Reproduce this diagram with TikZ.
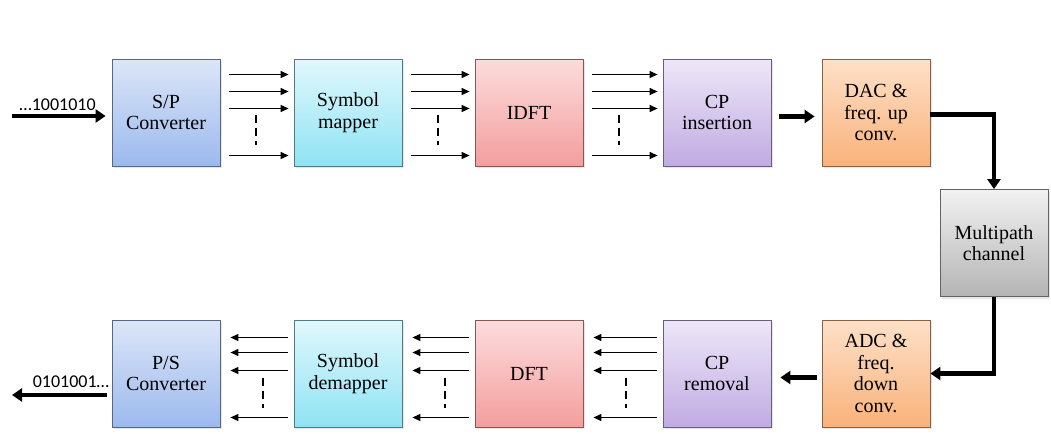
\documentclass[tikz,border=0pt]{standalone}
\usepackage{fontspec}
\setmainfont{Liberation Serif}
\newfontfamily\boxfont{Liberation Serif}
\newfontfamily\labfont{Carlito}
\usetikzlibrary{arrows.meta,shadows}

\definecolor{spT}{HTML}{DCE6F8}
\definecolor{spB}{HTML}{9CB9EE}
\definecolor{mapT}{HTML}{E1F8FC}
\definecolor{mapB}{HTML}{8FE3F4}
\definecolor{ftT}{HTML}{FCDCDC}
\definecolor{ftB}{HTML}{F49E9E}
\definecolor{cpT}{HTML}{EEE7F8}
\definecolor{cpB}{HTML}{C0ABE3}
\definecolor{cvT}{HTML}{FEE0C8}
\definecolor{cvB}{HTML}{F9B27A}
\definecolor{mpT}{HTML}{F2F2F2}
\definecolor{mpB}{HTML}{B4B4B4}

\begin{document}
\begin{tikzpicture}[x=0.5pt,y=-0.5pt,
   blk/.style 2 args={top color=#1, bottom color=#2, draw=#2!55!black,
      line width=0.4pt, minimum width=54pt, minimum height=53.5pt,
      inner sep=1pt, align=center, font=\boxfont\fontsize{10}{10.7}\selectfont,
      drop shadow={opacity=0.2,shadow xshift=1pt,shadow yshift=-1pt}},
   par/.style={line width=0.6pt,-{Triangle[length=4pt,width=3.5pt]}},
   fat/.style={line width=2.2pt,-{Triangle[length=5pt,width=6.5pt]}},
   dots/.style={line width=1pt,dash pattern=on 4pt off 2.5pt},
   bits/.style={anchor=base,inner sep=0pt,font=\labfont\fontsize{9}{9}\selectfont}]
   \useasboundingbox (0,0) rectangle (1051,434);

   \node[blk={spT}{spB}]   (sp)    at (166,112.5) {S/P\\Converter};
   \node[blk={mapT}{mapB}] (map)   at (348,112.5) {Symbol\\mapper};
   \node[blk={ftT}{ftB}]   (idft)  at (529,112.5) {IDFT};
   \node[blk={cpT}{cpB}]   (cpi)   at (717,112.5) {CP\\insertion};
   \node[blk={cvT}{cvB}]   (dac)   at (876,112.5) {DAC \&\\freq. up\\conv.};
   \node[blk={mpT}{mpB}]   (mp)    at (994,243)   {Multipath\\channel};
   \node[blk={spT}{spB}]   (ps)    at (166,373.5) {P/S\\Converter};
   \node[blk={mapT}{mapB}] (demap) at (348,373.5) {Symbol\\demapper};
   \node[blk={ftT}{ftB}]   (dft)   at (529,373.5) {DFT};
   \node[blk={cpT}{cpB}]   (cpr)   at (717,373.5) {CP\\removal};
   \node[blk={cvT}{cvB}]   (adc)   at (876,373.5) {ADC \&\\freq.\\down\\conv.};

   \foreach \a/\b in {sp/map,map/idft,idft/cpi}{
      \foreach \dy in {-38,-21,-4,43}
         \draw[par] ([shift={(9,\dy)}]\a.east) -- ([shift={(-5,\dy)}]\b.west);
      \draw[dots] ([shift={(36,2)}]\a.east) -- ([shift={(36,32)}]\a.east);
   }
   \foreach \a/\b in {ps/demap,demap/dft,dft/cpr}{
      \foreach \dy in {-36,-21,-3,44}
         \draw[par] ([shift={(-6,\dy)}]\b.west) -- ([shift={(10,\dy)}]\a.east);
      \draw[dots] ([shift={(43,4)}]\a.east) -- ([shift={(43,34)}]\a.east);
   }

   \coordinate (in) at (12,116);
   \draw[fat,shorten >=3pt] (in) -- (in -| sp.west);
   \node[bits] (inlab) at (57.5,110) {…1001010};
   \coordinate (out) at (12,395);
   \draw[fat,shorten <=2.5pt] (out -| ps.west) -- (out);
   \node[bits] (outlab) at (71,387) {0101001…};

   \draw[fat,shorten >=3.5pt] ([shift={(8,4)}]cpi.east) -- ([shift={(0,4)}]dac.west);
   \draw[fat] ([shift={(0,2)}]dac.east) -| (mp.north);
   \draw[fat] (mp.south) |- (adc.east);
   \draw[fat,shorten <=2.5pt] ([shift={(0,4)}]adc.west) -- ([shift={(9,4)}]cpr.east);
\end{tikzpicture}
\end{document}
